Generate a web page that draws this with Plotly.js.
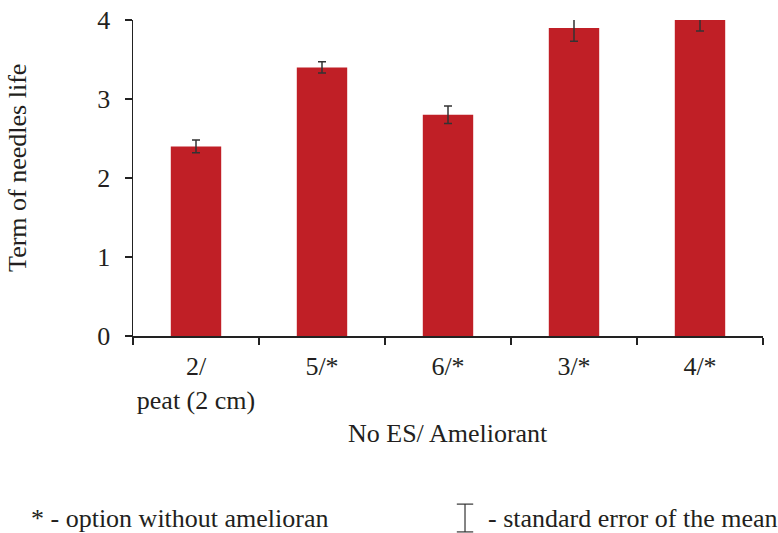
<!DOCTYPE html>
<html>
<head>
<meta charset="utf-8">
<script src="https://cdn.plot.ly/plotly-3.0.1.min.js"></script>
<style>html,body{margin:0;padding:0;background:#fff;}#chart{width:778px;height:533px;}</style>
</head>
<body>
<div id="chart"></div>
<script>
const categories = ["2/<br>peat (2 cm)", "5/*", "6/*", "3/*", "4/*"];
const values = [2.4, 3.4, 2.8, 3.9, 4.0];
const errors = [0.08, 0.07, 0.11, 0.17, 0.14];
const yTicks = [0, 1, 2, 3, 4];
const yTitle = "Term of needles life";
const xTitle = "No ES/ Ameliorant";
const noteLeft = "* - option without amelioran";
const noteRight = "- standard error of the mean";

const FONT = "'Times New Roman', 'Liberation Serif', serif";
const TXT = "#231f20";
const FS = 26;

const trace = {
  type: "bar",
  x: categories,
  y: values,
  marker: {color: "#c01f26", line: {width: 0}},
  error_y: {type: "data", array: errors, visible: true, color: "#333333", thickness: 1.5, width: 4},
  hoverinfo: "none"
};

const layout = {
  width: 778, height: 533,
  margin: {l: 133, r: 15, t: 20, b: 197},
  paper_bgcolor: "#fff", plot_bgcolor: "#fff",
  font: {family: FONT, size: FS, color: TXT},
  bargap: 0.6,
  showlegend: false,
  xaxis: {
    type: "category",
    showline: true, linecolor: "#222", linewidth: 1.5,
    ticks: "outside", tickson: "boundaries", ticklen: 7, tickcolor: "#222", tickwidth: 1.5,
    tickangle: 0,
    ticklabelstandoff: 6,
    showgrid: false, zeroline: false,
    tickfont: {family: FONT, size: FS, color: TXT},
    fixedrange: true
  },
  yaxis: {
    range: [0, 4], tickvals: yTicks, ticktext: yTicks.map(String),
    showline: true, linecolor: "#222", linewidth: 1.5,
    ticks: "outside", ticklen: 7, tickcolor: "#222", tickwidth: 1.5,
    ticklabelstandoff: 9,
    showgrid: false, zeroline: false,
    tickfont: {family: FONT, size: FS, color: TXT},
    fixedrange: true
  },
  annotations: [
    {text: yTitle, xref: "paper", yref: "paper", x: -0.1825, y: 0.532, textangle: -90,
     showarrow: false, xanchor: "center", yanchor: "middle", font: {family: FONT, size: FS, color: TXT}},
    {text: xTitle, xref: "paper", yref: "paper", x: 0.5, y: -0.307,
     showarrow: false, xanchor: "center", yanchor: "middle", font: {family: FONT, size: FS, color: TXT}},
    {text: noteLeft, xref: "paper", yref: "paper", x: -0.165, y: -0.579,
     showarrow: false, xanchor: "left", yanchor: "middle", font: {family: FONT, size: FS, color: TXT}},
    {text: noteRight, xref: "paper", yref: "paper", x: 0.560, y: -0.579,
     showarrow: false, xanchor: "left", yanchor: "middle", font: {family: FONT, size: FS, color: TXT}}
  ],
  shapes: [
    {type: "line", xref: "paper", yref: "paper", x0: 0.527, x1: 0.527, y0: -0.532, y1: -0.620, line: {color: "#333", width: 1.2}},
    {type: "line", xref: "paper", yref: "paper", x0: 0.514, x1: 0.540, y0: -0.532, y1: -0.532, line: {color: "#333", width: 1.2}},
    {type: "line", xref: "paper", yref: "paper", x0: 0.514, x1: 0.540, y0: -0.620, y1: -0.620, line: {color: "#333", width: 1.2}}
  ]
};

Plotly.newPlot("chart", [trace], layout, {staticPlot: true, displayModeBar: false});
</script>
</body>
</html>
